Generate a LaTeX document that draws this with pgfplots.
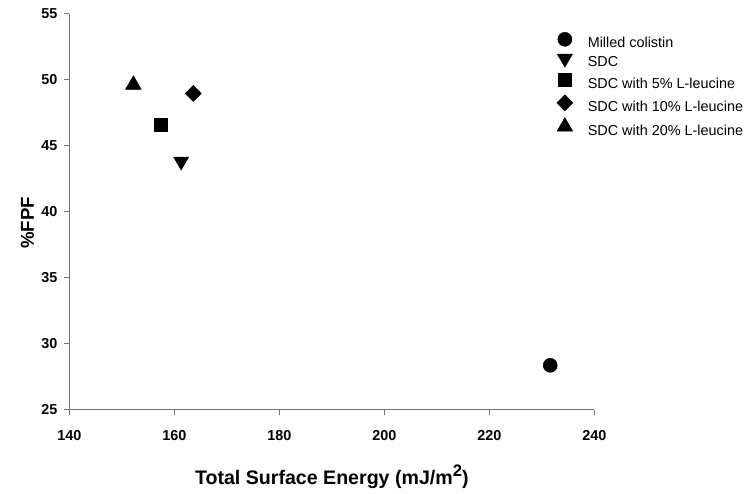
\documentclass[border=0pt]{standalone}
\usepackage{pgfplots}
\pgfplotsset{compat=1.18}
\usepackage{fontspec}
\setmainfont{Liberation Sans}
\begin{document}
\begin{tikzpicture}
\useasboundingbox (0,0) rectangle (562.5pt,369.75pt);
\begin{axis}[
  at={(52pt,62.6pt)}, anchor=south west,
  scale only axis, width=393.75pt, height=297pt,
  xmin=140, xmax=240, ymin=25, ymax=55,
  xtick={140,160,...,240}, ytick={25,30,...,55},
  axis x line*=bottom, axis y line*=left,
  axis line style={draw=black!55, line width=0.8pt},
  every tick/.style={draw=black!55, line width=0.8pt},
  tick align=outside, major tick length=4pt,
  /pgf/number format/assume math mode=true,
  tick label style={font=\fontsize{10.8}{12}\selectfont\bfseries},
  xticklabel style={yshift=-8pt},
  yticklabel style={xshift=-1.5pt},
  xlabel={Total Surface Energy (mJ/m\raisebox{0.42em}{\fontsize{12.5}{12}\selectfont 2})},
  xlabel style={at={(axis description cs:0.5,0)}, anchor=base, yshift=-56.5pt, font=\fontsize{14.7}{18}\selectfont\bfseries},
  ylabel={\%FPF},
  ylabel style={at={(axis description cs:-0.08,0.471)}, anchor=center, font=\fontsize{14}{16}\selectfont\bfseries},
  legend style={at={(0.92,0.96)}, anchor=north west, draw=none, fill=none,
    font=\fontsize{10.8}{12}\selectfont, row sep=0.8pt,
    nodes={inner sep=1.5pt, text height=8pt, text depth=2.5pt}},
  legend image code/.code={\path (0pt,0pt) (21.5pt,0pt);
    \draw[mark repeat=2,mark phase=2,#1] plot coordinates {(0pt,3.6pt) (6pt,3.6pt) (12pt,3.6pt)};},
  legend cell align=left,
  clip=false,
]
\addplot[only marks, mark=*, mark size=5.25pt, black] coordinates {(231.6,28.35)};
\addlegendentry{Milled colistin}
\addplot[only marks, mark=triangle*, mark options={rotate=180}, mark size=6.5pt, black] coordinates {(161.3,43.8)};
\addlegendentry{SDC}
\addplot[only marks, mark=square*, mark size=4.9pt, black] coordinates {(157.5,46.6)};
\addlegendentry{SDC with 5\% L-leucine}
\addplot[only marks, mark=diamond*, mark options={xscale=1.333}, mark size=6pt, black] coordinates {(163.6,48.95)};
\addlegendentry{SDC with 10\% L-leucine}
\addplot[only marks, mark=triangle*, mark size=6.75pt, black] coordinates {(152.2,49.6)};
\addlegendentry{SDC with 20\% L-leucine}
\end{axis}
\end{tikzpicture}
\end{document}
